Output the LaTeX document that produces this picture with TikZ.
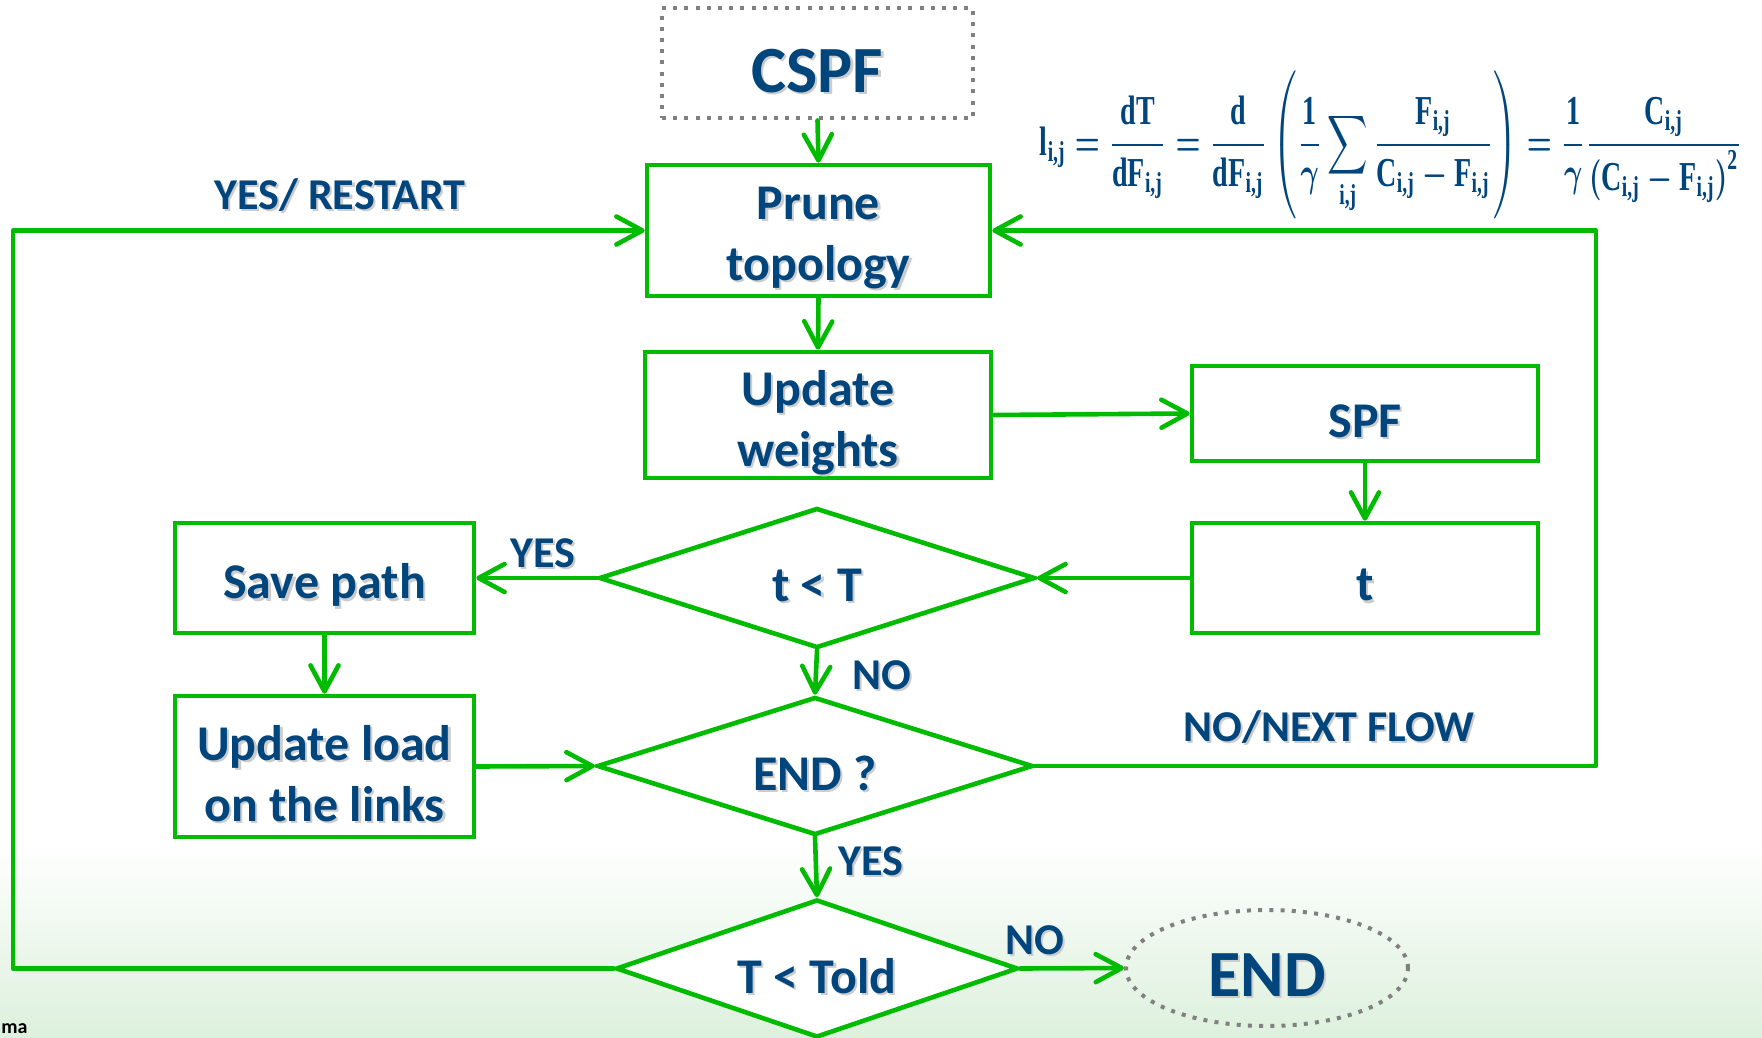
\documentclass[tikz,border=0pt]{standalone}
\usepackage{fontspec}
\usepackage{amsmath,bm}
\usepackage{graphicx}
\setmainfont{Carlito}
\newfontfamily\eqfont{Liberation Serif}
\usetikzlibrary{arrows.meta,shapes.geometric,calc}

\definecolor{flowgreen}{RGB}{0,187,0}
\definecolor{inkblue}{RGB}{0,69,124}
\definecolor{dotgray}{RGB}{128,128,128}
\definecolor{paleleaf}{RGB}{221,240,221}

% text with a soft drop shadow
\newcommand\shadow[1]{\rlap{\kern1.1pt\raisebox{-1.1pt}{\textcolor{black!20}{#1}}}#1}
% the same, set a little below the centre line of its box
\newcommand\shad[1]{\raisebox{-4.2pt}[\height][\depth]{\shadow{#1}}}
% bold upright symbols inside the formula
\newcommand\eqs[1]{\text{\eqfont\bfseries #1}}

\tikzset{
  flow/.style={draw=flowgreen, line width=2.3pt, line cap=round, line join=round,
    -{Straight Barb[length=13pt,width=14pt,line cap=round,line join=round]}},
  stepbox/.style={draw=flowgreen, fill=white, line width=2.3pt, rectangle,
    inner sep=0pt, align=center, text=inkblue,
    font=\bfseries\fontsize{25}{30.5}\selectfont},
  decision/.style={draw=flowgreen, fill=white, line width=2.3pt, diamond,
    inner sep=0pt, text=inkblue, font=\bfseries\fontsize{25}{30}\selectfont},
  terminal/.style={draw=dotgray, line width=2pt, dash pattern=on 2pt off 3.6pt,
    inner sep=0pt, text=inkblue, font=\bfseries\fontsize{33}{38}\selectfont},
  lbl/.style={text=inkblue, inner sep=0pt, yshift=-1pt,
    font=\bfseries\fontsize{22}{26}\selectfont},
}

\begin{document}
\begin{tikzpicture}[x=0.5pt,y=-0.5pt]
\useasboundingbox (0,0) rectangle (1762,1038);
% page background: white fading to pale green at the foot
\fill[white] (0,0) rectangle (1762,1038);
\shade[top color=white, bottom color=paleleaf] (0,840) rectangle (1762,1038);

% formula for the link length
\node[text=inkblue, inner sep=0pt] (formula) at (1391,145)
  {\resizebox*{351pt}{74pt}{\boldmath$\displaystyle
   \eqs{l}_{\eqs{i,j}}=\frac{\eqs{dT}}{\eqs{dF}_{\eqs{i,j}}}
   =\frac{\eqs{d}}{\eqs{dF}_{\eqs{i,j}}}
   \left(\frac{\eqs{1}}{\bm{\gamma}}\sum_{\eqs{i,j}}
   \frac{\eqs{F}_{\eqs{i,j}}}{\eqs{C}_{\eqs{i,j}}-\eqs{F}_{\eqs{i,j}}}\right)
   =\frac{\eqs{1}}{\bm{\gamma}}
   \frac{\eqs{C}_{\eqs{i,j}}}{\left(\eqs{C}_{\eqs{i,j}}-\eqs{F}_{\eqs{i,j}}\right)^{\eqs{2}}}$}};

% steps
\node[terminal, rectangle, minimum width=155.5pt, minimum height=55pt] (cspf) at (817.5,63.5) {\shad{CSPF}};
\node[stepbox, minimum width=171.5pt, minimum height=65.5pt] (prune) at (818.5,230.5) {\shad{Prune}\\\shad{topology}};
\node[stepbox, minimum width=173pt, minimum height=63pt] (upd) at (818,415) {\shad{Update}\\\shad{weights}};
\node[stepbox, minimum width=173pt, minimum height=47.5pt] (spf) at (1365,413.5) {\shad{SPF}};
\node[stepbox, minimum width=173pt, minimum height=55pt] (tbox) at (1365,578) {\shad{t}};
\node[stepbox, minimum width=149.5pt, minimum height=55pt] (save) at (324.5,578) {\shad{Save path}};
\node[stepbox, minimum width=149.5pt, minimum height=70.5pt] (load) at (324.5,766.5) {\shad{Update load}\\\shad{on the links}};

% decisions
\node[decision, aspect=3.1, minimum width=218pt, minimum height=70pt] (d1) at (817,578) {\shad{t < T}};
\node[decision, aspect=3.1, minimum width=218pt, minimum height=69pt] (d2) at (815,766) {\shad{END ?}};
\node[decision, aspect=2.9, minimum width=201pt, minimum height=69pt] (d3) at (817,968.5) {\shad{T < Told}};

\node[terminal, ellipse, minimum width=141pt, minimum height=58pt] (fin) at (1267,968) {\shad{END}};

% loop corners
\coordinate (lc1) at (13,968.5);
\coordinate (lc2) at (13,230.5);
\coordinate (rc1) at (1596,766);
\coordinate (rc2) at (1596,230.5);

% connectors
\draw[flow] (cspf.south) -- (prune.north);
\draw[flow] (prune.south) -- (upd.north);
\draw[flow] (upd.east) -- (spf.west);
\draw[flow] (spf.south) -- (tbox.north);
\draw[flow] (tbox.west) -- (d1.east);
\draw[flow] (d1.west) -- (save.east);
\draw[flow] (save.south) -- (load.north);
\draw[flow] (load.east) -- (d2.west);
\draw[flow] (d1.south) -- (d2.north);
\draw[flow] (d2.south) -- (d3.north);
\draw[flow] (d3.east) -- (fin.west);
\draw[flow] (d2.east) -- (rc1) -- (rc2) -- (prune.east);
\draw[flow] (d3.west) -- (lc1) -- (lc2) -- (prune.west);

% branch labels
\node[lbl] (lrestart) at (340,194) {\shadow{YES/ RESTART}};
\node[lbl] (lyes1) at (543,552) {\shadow{YES}};
\node[lbl] (lno1) at (882,674) {\shadow{NO}};
\node[lbl] (lnext) at (1329,726) {\shadow{NO/NEXT FLOW}};
\node[lbl] (lyes2) at (871,860) {\shadow{YES}};
\node[lbl] (lno2) at (1035,939) {\shadow{NO}};

% stray caption fragment at the lower left
\node[anchor=base west, inner sep=0pt, font=\bfseries\fontsize{10}{12}\selectfont] (frag) at (1,1033) {ma};
\end{tikzpicture}
\end{document}
